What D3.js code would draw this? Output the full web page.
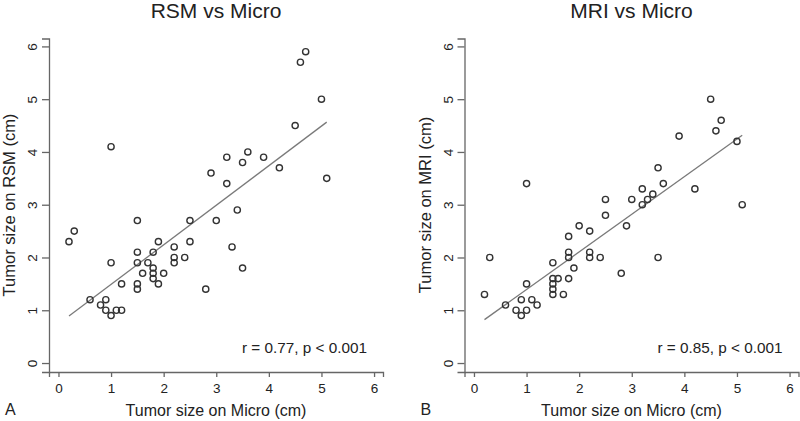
<!DOCTYPE html>
<html>
<head>
<meta charset="utf-8">
<script src="https://cdn.jsdelivr.net/npm/d3@7"></script>
<style>
  html, body { margin: 0; padding: 0; background: #fff; }
  svg { display: block; font-family: "Liberation Sans", Arial, Helvetica, sans-serif; }
</style>
</head>
<body>
<svg id="chart" width="800" height="421"></svg>
<script>
// ---- Data ----
const tickValues = [0, 1, 2, 3, 4, 5, 6];

// Panel A: RSM vs Micro
const rsmMicro = [0.2, 0.3, 1.0, 1.0, 0.6, 0.8, 0.9, 0.9, 1.0, 1.1, 1.2, 1.2,
  1.5, 1.5, 1.5, 1.5, 1.5, 1.6, 1.7, 1.8, 1.8, 1.8, 1.8, 1.9, 1.9, 2.0,
  2.2, 2.2, 2.2, 2.4, 2.5, 2.5, 2.8, 2.9, 3.0, 3.2, 3.2, 3.3, 3.4, 3.5,
  3.5, 3.6, 3.9, 4.2, 4.5, 4.6, 4.7, 5.0, 5.1];
const rsmValues = [2.3, 2.5, 4.1, 1.9, 1.2, 1.1, 1.2, 1.0, 0.9, 1.0, 1.0, 1.5,
  2.7, 2.1, 1.9, 1.5, 1.4, 1.7, 1.9, 2.1, 1.8, 1.7, 1.6, 2.3, 1.5, 1.7,
  2.2, 2.0, 1.9, 2.0, 2.7, 2.3, 1.4, 3.6, 2.7, 3.9, 3.4, 2.2, 2.9, 3.8,
  1.8, 4.0, 3.9, 3.7, 4.5, 5.7, 5.9, 5.0, 3.5];
const rsmFit = [0.74, 0.75];           // [intercept, slope]
const rsmLabel = "r = 0.77, p < 0.001";

// Panel B: MRI vs Micro
const mriMicro = [0.2, 0.3, 0.6, 0.8, 0.9, 0.9, 1.0, 1.0, 1.0, 1.1, 1.2,
  1.5, 1.5, 1.5, 1.5, 1.5, 1.6, 1.7, 1.8, 1.8, 1.8, 1.8, 1.9, 2.0,
  2.2, 2.2, 2.2, 2.4, 2.5, 2.5, 2.8, 2.9, 3.0, 3.2, 3.2, 3.3, 3.4,
  3.5, 3.5, 3.6, 3.9, 4.2, 4.5, 4.6, 4.7, 5.0, 5.1];
const mriValues = [1.3, 2.0, 1.1, 1.0, 1.2, 0.9, 1.0, 1.5, 3.4, 1.2, 1.1,
  1.9, 1.6, 1.5, 1.4, 1.3, 1.6, 1.3, 2.4, 2.1, 2.0, 1.6, 1.8, 2.6,
  2.5, 2.1, 2.0, 2.0, 3.1, 2.8, 1.7, 2.6, 3.1, 3.3, 3.0, 3.1, 3.2,
  3.7, 2.0, 3.4, 4.3, 3.3, 5.0, 4.4, 4.6, 4.2, 3.0];
const mriFit = [0.68, 0.713];
const mriLabel = "r = 0.85, p < 0.001";

const panels = [
  { title: "RSM vs Micro", ylab: "Tumor size on RSM (cm)", xlab: "Tumor size on Micro (cm)",
    letter: "A", xs: rsmMicro, ys: rsmValues, fit: rsmFit, note: rsmLabel, left: 49 },
  { title: "MRI vs Micro", ylab: "Tumor size on MRI (cm)", xlab: "Tumor size on Micro (cm)",
    letter: "B", xs: mriMicro, ys: mriValues, fit: mriFit, note: mriLabel, left: 464.5 }
];

// ---- Drawing ----
const svg = d3.select("#chart");
const textColor = "#222";
const axisColor = "#666";
const plotW = 334, plotTop = 38.5, plotBottom = 372;

panels.forEach(p => {
  const g = svg.append("g");
  const x = d3.scaleLinear().domain([-0.18, 6.17]).range([p.left, p.left + plotW]);
  const y = d3.scaleLinear().domain([-0.17, 6.15]).range([plotBottom, plotTop]);

  // x axis
  const xa = g.append("g").attr("transform", `translate(0,${plotBottom})`)
    .call(d3.axisBottom(x).tickValues(tickValues).tickFormat(d3.format("d"))
      .tickSizeOuter(0).tickSize(5).tickPadding(6));
  // y axis
  const ya = g.append("g").attr("transform", `translate(${p.left},0)`)
    .call(d3.axisLeft(y).tickValues(tickValues).tickFormat(d3.format("d"))
      .tickSizeOuter(0).tickSize(7));
  [xa, ya].forEach(a => {
    a.select(".domain").attr("stroke", axisColor).attr("stroke-width", 1.3);
    a.selectAll(".tick line").attr("stroke", axisColor).attr("stroke-width", 1.3);
    a.selectAll(".tick text").attr("fill", textColor)
      .style("font-size", "13.5px").style("font-family", "Liberation Sans, Arial, sans-serif");
  });
  ya.selectAll(".tick text")
    .attr("transform", "rotate(-90)")
    .attr("x", 0).attr("y", -12).attr("dy", 0)
    .attr("text-anchor", "middle");

  // regression line
  const x0 = d3.min(p.xs), x1 = d3.max(p.xs);
  g.append("line")
    .attr("x1", x(x0)).attr("y1", y(p.fit[0] + p.fit[1] * x0))
    .attr("x2", x(x1)).attr("y2", y(p.fit[0] + p.fit[1] * x1))
    .attr("stroke", "#7a7a7a").attr("stroke-width", 1.3);

  // points
  g.selectAll("circle.pt").data(p.xs.map((v, i) => [v, p.ys[i]])).join("circle")
    .attr("class", "pt")
    .attr("cx", d => x(d[0])).attr("cy", d => y(d[1]))
    .attr("r", 3.1).attr("fill", "none")
    .attr("stroke", "#333").attr("stroke-width", 1.4);

  const cx = p.left + plotW / 2;
  // title
  g.append("text").attr("x", cx).attr("y", 18.3).attr("text-anchor", "middle")
    .attr("fill", textColor).style("font-size", "21px").text(p.title);
  // annotation
  g.append("text").attr("x", p.left + plotW - 16).attr("y", 353).attr("text-anchor", "end")
    .attr("fill", textColor).style("font-size", "15.3px").text(p.note);
  // x label
  g.append("text").attr("x", cx).attr("y", 416).attr("text-anchor", "middle")
    .attr("fill", textColor).style("font-size", "16px").text(p.xlab);
  // y label
  g.append("text").attr("transform", `translate(${p.left - 34},${205}) rotate(-90)`)
    .attr("text-anchor", "middle")
    .attr("fill", textColor).style("font-size", "16.5px").text(p.ylab);
  // panel letter
  g.append("text").attr("x", p.left - 44).attr("y", 415)
    .attr("fill", textColor).style("font-size", "16px").text(p.letter);
});
</script>
</body>
</html>
